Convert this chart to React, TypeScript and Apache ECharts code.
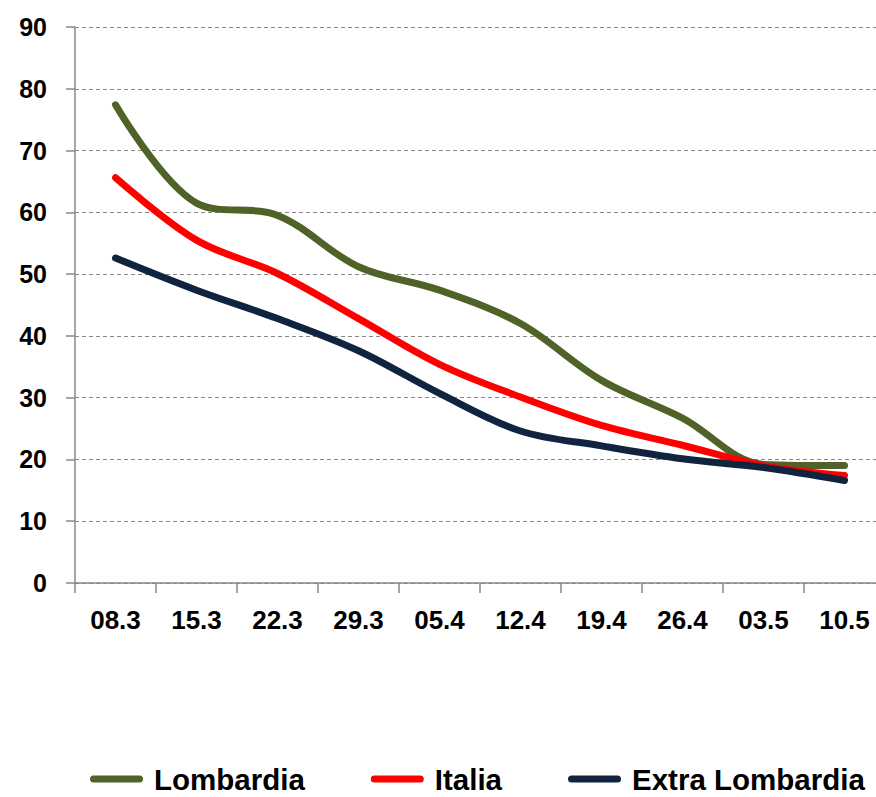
import React, { useEffect, useRef } from "react";
import * as echarts from "echarts";

const categories = ["08.3", "15.3", "22.3", "29.3", "05.4", "12.4", "19.4", "26.4", "03.5", "10.5"];
const lombardia = [77.4, 61.5, 59.5, 51.2, 47.4, 42.0, 32.8, 26.7, 19.2, 19.0];
const italia = [65.6, 55.5, 50.1, 42.8, 35.4, 30.1, 25.5, 22.3, 19.0, 17.4];
const extraLombardia = [52.6, 47.4, 42.8, 37.6, 30.7, 24.6, 22.2, 20.1, 18.7, 16.6];
const seriesNames = ["Lombardia", "Italia", "Extra Lombardia"];
const colors = ["#4F6228", "#FF0000", "#10243F"];

export default function App() {
  const ref = useRef<HTMLDivElement>(null);
  useEffect(() => {
    if (!ref.current) return;
    const chart = echarts.init(ref.current, null, { renderer: "svg" });
    const font = "Liberation Sans";
    const mk = (name: string, data: number[], color: string) => ({
      name,
      type: "line",
      data,
      smooth: 0.35,
      symbol: "none",
      lineStyle: { color, width: 7, cap: "round" },
      itemStyle: { color },
    });
    chart.setOption({
      animation: false,
      backgroundColor: "#ffffff",
      grid: { left: 75, top: 27, width: 810, height: 556, outerBoundsMode: "none", containLabel: false },
      legend: {
        left: 90,
        top: 764,
        padding: 0,
        itemWidth: 53,
        itemHeight: 7,
        itemGap: 66,
        icon: "path://M3.5,0 H49.5 A3.5,3.5 0 0 1 49.5,7 H3.5 A3.5,3.5 0 0 1 3.5,0 Z",
        data: seriesNames,
        textStyle: {
          fontFamily: font,
          fontWeight: "bold",
          fontSize: 29.5,
          color: "#000",
          padding: [0, 0, 0, 6],
        },
      },
      xAxis: {
        type: "category",
        data: categories,
        boundaryGap: true,
        axisLine: { lineStyle: { color: "#888888", width: 1.5 } },
        axisTick: { show: true, length: 10, lineStyle: { color: "#888888", width: 1.5 } },
        axisLabel: {
          margin: 24,
          fontFamily: font,
          fontWeight: "bold",
          fontSize: 26,
          color: "#000",
        },
        splitLine: { show: false },
      },
      yAxis: {
        type: "value",
        min: 0,
        max: 90,
        interval: 10,
        axisLine: { show: true, lineStyle: { color: "#888888", width: 1.5 } },
        axisTick: { show: true, length: 9, lineStyle: { color: "#888888", width: 1.5 } },
        axisLabel: {
          margin: 28,
          fontFamily: font,
          fontWeight: "bold",
          fontSize: 25,
          color: "#000",
        },
        splitLine: { show: true, lineStyle: { color: "#888888", type: [4, 3], width: 1 } },
      },
      series: [
        mk(seriesNames[0], lombardia, colors[0]),
        mk(seriesNames[1], italia, colors[1]),
        mk(seriesNames[2], extraLombardia, colors[2]),
      ],
    });
    return () => chart.dispose();
  }, []);
  return (
    <div
      ref={ref}
      style={{ position: "fixed", left: 0, top: 0, width: 876, height: 797, background: "#fff" }}
    />
  );
}
